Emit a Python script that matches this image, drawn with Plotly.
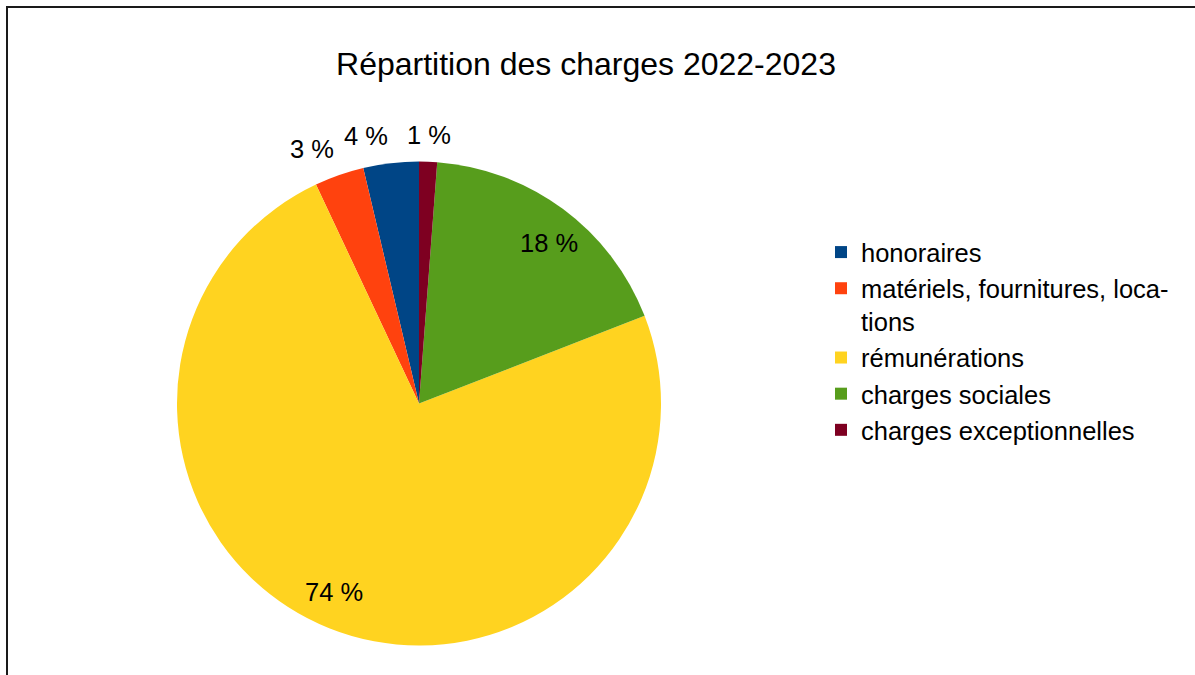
import math
import plotly.graph_objects as go

# ---- data ----
categories = [
    "honoraires",
    "matériels, fournitures, loca-<br>tions",
    "rémunérations",
    "charges sociales",
    "charges exceptionnelles",
]
values = [3.7, 3.3, 73.9, 17.9, 1.2]
colors = ["#004586", "#ff420e", "#ffd320", "#579d1c", "#7e0021"]
label_outside = [True, True, False, False, True]
title_text = "Répartition des charges 2022-2023"

# ---- geometry / style ----
W, H = 1195, 675
CX, CY, R = 419, 403.5, 242
FONT = "Liberation Sans, Arial, sans-serif"
FS = 25.5
INSIDE_R, OUTSIDE_R = 0.855, 1.045
INSIDE_SHIFT = math.radians(2.5)  # label placement offset, clockwise

total = sum(values)

fig = go.Figure()
fig.add_trace(go.Pie(
    labels=categories,
    values=values,
    sort=False,
    direction="counterclockwise",
    # plotly puts the first counterclockwise slice to the right of 12 o'clock;
    # rotate so that it starts at 12 o'clock and goes left, as in the reference
    rotation=-360 * values[0] / total,
    marker=dict(colors=colors, line=dict(width=0)),
    textposition="none",
    hoverinfo="skip",
    domain=dict(x=[(CX - R) / W, (CX + R) / W], y=[1 - (CY + R) / H, 1 - (CY - R) / H]),
))

# percentage labels positioned from the slice angles
annotations = []
cum = 0.0
for v, out in zip(values, label_outside):
    mid = -(cum + v / 2) / total * 2 * math.pi
    cum += v
    if not out:
        mid += INSIDE_SHIFT
    s, c = math.sin(mid), math.cos(mid)
    r = OUTSIDE_R if out else INSIDE_R
    px = CX + r * R * s
    py = CY - r * R * c
    if out:
        xa = "center" if abs(s) < 0.1 else ("right" if s < 0 else "left")
        ya = "bottom" if c > 0 else "top"
    else:
        xa, ya = "center", "middle"
    annotations.append(dict(
        x=px / W, y=1 - py / H, xref="paper", yref="paper",
        text=f"{round(v / total * 100)} %", showarrow=False,
        xanchor=xa, yanchor=ya,
        font=dict(family=FONT, size=FS, color="#000000"),
    ))

fig.update_layout(
    width=W, height=H,
    margin=dict(l=0, r=0, t=0, b=0),
    paper_bgcolor="#ffffff",
    plot_bgcolor="#ffffff",
    title=dict(
        text=title_text, x=586 / W, xanchor="center",
        y=1 - 64 / H, yanchor="middle",
        font=dict(family=FONT, size=32, color="#000000"),
    ),
    legend=dict(
        x=821 / W, xanchor="left", y=1 - 229 / H, yanchor="top",
        font=dict(family=FONT, size=FS, color="#000000"),
        valign="top", bgcolor="rgba(0,0,0,0)", borderwidth=0,
    ),
    annotations=annotations,
    shapes=[dict(
        type="rect", xref="paper", yref="paper",
        x0=7 / W, x1=1.05, y0=-0.05, y1=1 - 7 / H,
        line=dict(color="#1a1a1a", width=2), fillcolor="rgba(0,0,0,0)",
    )],
)

fig.write_html(
    "out.html",
    config={"displayModeBar": False},
    post_script="document.body.style.margin='0';",
)
